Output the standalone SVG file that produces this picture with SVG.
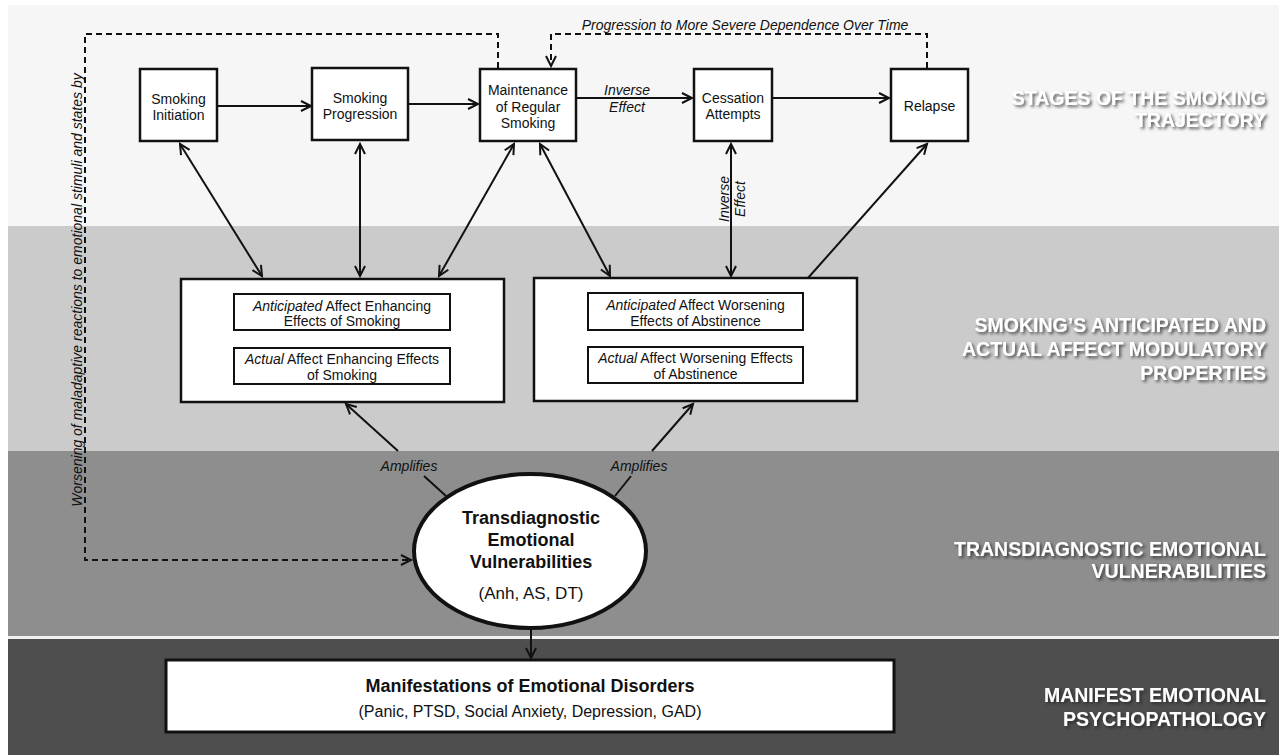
<svg xmlns="http://www.w3.org/2000/svg" width="1285" height="755" viewBox="0 0 1285 755">
<style>
.t{font-family:"Liberation Sans",Arial,sans-serif;fill:#111;}
.b14{font-size:14px;text-anchor:middle;}
.i14{font-size:14px;font-style:italic;text-anchor:middle;}
.box{fill:#fff;stroke:#111;stroke-width:2.5;}
.ibox{fill:#fff;stroke:#111;stroke-width:2;}
.ln{fill:none;stroke:#111;stroke-width:2;}
.dash{fill:none;stroke:#111;stroke-width:2;stroke-dasharray:6 4;}
.lab{font-family:"Liberation Sans",Arial,sans-serif;font-weight:bold;font-size:19.5px;fill:#fff;text-anchor:end;filter:url(#sh);}
</style>
<defs>
<marker id="ah" viewBox="-2 -2 14 14" refX="10" refY="5" markerWidth="14" markerHeight="14" markerUnits="userSpaceOnUse" orient="auto-start-reverse" overflow="visible">
<path d="M0,0 L10,5 L0,10" fill="none" stroke="#111" stroke-width="2"/>
</marker>
<filter id="sh" x="-10%" y="-30%" width="120%" height="160%">
<feDropShadow dx="2" dy="2" stdDeviation="1.5" flood-color="#222" flood-opacity="0.75"/>
</filter>
</defs>

<g id="bands">
<rect x="8" y="5" width="1271" height="221" fill="#f6f6f6"/>
<rect x="8" y="226" width="1271" height="225" fill="#cbcbcb"/>
<rect x="8" y="451" width="1271" height="185" fill="#8e8e8e"/>
<rect x="8" y="636" width="1271" height="3" fill="#f0f0f0"/>
<rect x="8" y="639" width="1271" height="116" fill="#4e4e4e"/>
</g>

<g id="band-labels">
<text class="lab" x="1266" y="105">STAGES OF THE SMOKING</text>
<text class="lab" x="1266" y="127">TRAJECTORY</text>
<text class="lab" x="1266" y="332">SMOKING’S ANTICIPATED AND</text>
<text class="lab" x="1266" y="356">ACTUAL AFFECT MODULATORY</text>
<text class="lab" x="1266" y="380">PROPERTIES</text>
<text class="lab" x="1266" y="556">TRANSDIAGNOSTIC EMOTIONAL</text>
<text class="lab" x="1266" y="578">VULNERABILITIES</text>
<text class="lab" x="1266" y="702">MANIFEST EMOTIONAL</text>
<text class="lab" x="1266" y="726">PSYCHOPATHOLOGY</text>
</g>

<g id="connectors">
<line class="ln" x1="217" y1="106" x2="311" y2="106" marker-end="url(#ah)"/>
<line class="ln" x1="408" y1="104" x2="478" y2="104" marker-end="url(#ah)"/>
<line class="ln" x1="576" y1="98" x2="692" y2="98" marker-end="url(#ah)"/>
<line class="ln" x1="772" y1="98" x2="889" y2="98" marker-end="url(#ah)"/>
<path class="dash" d="M927,68 V34 H551 V66" marker-end="url(#ah)"/>
<path class="dash" d="M498,68 V34 H85 V560 H411" marker-end="url(#ah)"/>
<line class="ln" x1="180" y1="144" x2="262" y2="276" marker-start="url(#ah)" marker-end="url(#ah)"/>
<line class="ln" x1="360" y1="144" x2="360" y2="276" marker-start="url(#ah)" marker-end="url(#ah)"/>
<line class="ln" x1="514" y1="144" x2="439" y2="276" marker-start="url(#ah)" marker-end="url(#ah)"/>
<line class="ln" x1="540" y1="144" x2="610" y2="276" marker-start="url(#ah)" marker-end="url(#ah)"/>
<line class="ln" x1="731" y1="144" x2="731" y2="276" marker-start="url(#ah)" marker-end="url(#ah)"/>
<line class="ln" x1="808" y1="278" x2="927" y2="144" marker-end="url(#ah)"/>
<path class="ln" d="M234,312 H211 V366 H233" marker-end="url(#ah)"/>
<path class="ln" d="M450,366 H474 V312 H451" marker-end="url(#ah)"/>
<path class="ln" d="M588,311 H564 V365 H587" marker-end="url(#ah)"/>
<path class="ln" d="M803,365 H826 V311 H804" marker-end="url(#ah)"/>
<line class="ln" x1="446" y1="496" x2="424" y2="476"/>
<line class="ln" x1="398" y1="451" x2="346" y2="404" marker-end="url(#ah)"/>
<line class="ln" x1="615" y1="496" x2="631" y2="476"/>
<line class="ln" x1="652" y1="451" x2="693" y2="404" marker-end="url(#ah)"/>
<line class="ln" x1="531" y1="628" x2="531" y2="658" marker-end="url(#ah)"/>
<text class="t i14" x="745" y="30">Progression to More Severe Dependence Over Time</text>
<text class="t i14" transform="translate(82,290) rotate(-90)">Worsening of maladaptive reactions to emotional stimuli and states by</text>
<text class="t i14" x="627" y="95">Inverse</text>
<text class="t i14" x="627" y="112">Effect</text>
<text class="t i14" transform="translate(729,199) rotate(-90)">Inverse</text>
<text class="t i14" transform="translate(745,199) rotate(-90)">Effect</text>
<text class="t i14" x="409" y="471">Amplifies</text>
<text class="t i14" x="639" y="471">Amplifies</text>
</g>

<g id="smoking-initiation">
<rect class="box" x="140" y="69" width="77" height="72"/>
<text class="t b14" x="178.5" y="104">Smoking</text>
<text class="t b14" x="178.5" y="120">Initiation</text>
</g>
<g id="smoking-progression">
<rect class="box" x="312" y="68" width="96" height="72"/>
<text class="t b14" x="360" y="103">Smoking</text>
<text class="t b14" x="360" y="119">Progression</text>
</g>
<g id="maintenance">
<rect class="box" x="480" y="69" width="96" height="72"/>
<text class="t b14" x="528" y="95">Maintenance</text>
<text class="t b14" x="528" y="111.5">of Regular</text>
<text class="t b14" x="528" y="128">Smoking</text>
</g>
<g id="cessation">
<rect class="box" x="694" y="69" width="78" height="72"/>
<text class="t b14" x="733" y="103">Cessation</text>
<text class="t b14" x="733" y="119">Attempts</text>
</g>
<g id="relapse">
<rect class="box" x="891" y="69" width="77" height="72"/>
<text class="t b14" x="929.5" y="111">Relapse</text>
</g>

<g id="smoking-effects">
<rect class="box" x="181" y="279" width="323" height="123"/>
<rect class="ibox" x="234" y="294" width="216" height="36"/>
<text class="t b14" x="342" y="311"><tspan font-style="italic">Anticipated</tspan> Affect Enhancing</text>
<text class="t b14" x="342" y="326">Effects of Smoking</text>
<rect class="ibox" x="234" y="348" width="216" height="36"/>
<text class="t b14" x="342" y="364"><tspan font-style="italic">Actual</tspan> Affect Enhancing Effects</text>
<text class="t b14" x="342" y="380">of Smoking</text>
</g>

<g id="abstinence-effects">
<rect class="box" x="534" y="278" width="323" height="123"/>
<rect class="ibox" x="588" y="293" width="215" height="37"/>
<text class="t b14" x="695.5" y="310"><tspan font-style="italic">Anticipated</tspan> Affect Worsening</text>
<text class="t b14" x="695.5" y="326">Effects of Abstinence</text>
<rect class="ibox" x="588" y="347" width="215" height="36"/>
<text class="t b14" x="695.5" y="363"><tspan font-style="italic">Actual</tspan> Affect Worsening Effects</text>
<text class="t b14" x="695.5" y="379">of Abstinence</text>
</g>

<g id="vulnerabilities">
<ellipse cx="530" cy="551" rx="116" ry="77" fill="#fff" stroke="#111" stroke-width="4"/>
<text class="t" x="531" y="524" font-size="18" font-weight="bold" text-anchor="middle">Transdiagnostic</text>
<text class="t" x="531" y="546" font-size="18" font-weight="bold" text-anchor="middle">Emotional</text>
<text class="t" x="531" y="568" font-size="18" font-weight="bold" text-anchor="middle">Vulnerabilities</text>
<text class="t" x="531" y="599" font-size="17" text-anchor="middle">(Anh, AS, DT)</text>
</g>

<g id="manifestations">
<rect x="166" y="660" width="728" height="72" fill="#fff" stroke="#111" stroke-width="3"/>
<text class="t" x="530" y="692" font-size="18" font-weight="bold" text-anchor="middle">Manifestations of Emotional Disorders</text>
<text class="t" x="530" y="717" font-size="16" text-anchor="middle">(Panic, PTSD, Social Anxiety, Depression, GAD)</text>
</g>
</svg>
